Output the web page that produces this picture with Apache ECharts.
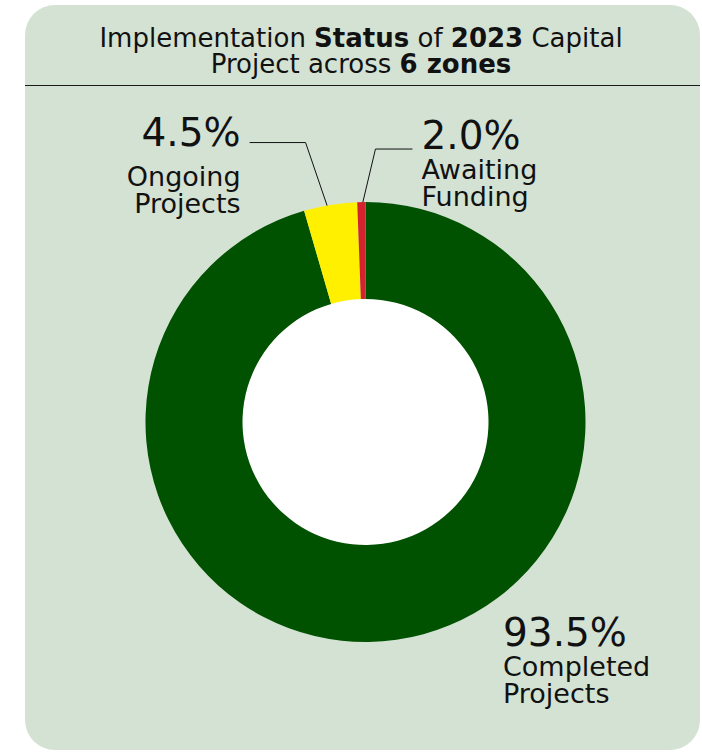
<!DOCTYPE html>
<html>
<head>
<meta charset="utf-8">
<script src="https://cdn.jsdelivr.net/npm/echarts@6/dist/echarts.min.js"></script>
<style>
  html, body { margin: 0; padding: 0; background: #ffffff; }
  #chart { width: 702px; height: 752px; }
  #chart text { font-variant-ligatures: none; }
</style>
</head>
<body>
<div id="chart"></div>
<script>
// ---- data ----
const categories = ['Completed Projects', 'Ongoing Projects', 'Awaiting Funding'];
const labelWords = [['Completed', 'Projects'], ['Ongoing', 'Projects'], ['Awaiting', 'Funding']];
const sliceValues = [95.5, 3.9, 0.6];          // slice sizes as drawn
const shownPercents = ['93.5%', '4.5%', '2.0%']; // percentages printed on the chart
const sliceColors = ['#005200', '#FFF000', '#D2232E'];
const titleLine1 = [['Implementation ', 'n'], ['Status', 'b'], [' of ', 'n'], ['2023', 'b'], [' Capital', 'n']];
const titleLine2 = [['Project across ', 'n'], ['6 zones', 'b']];

// ---- layout ----
const CX = 365.5, CY = 422, R_IN = 123, R_OUT = 220;
const FONT = '"DejaVu Sans", "Open Sans", sans-serif';
const total = sliceValues.reduce((a, b) => a + b, 0);
function midAngle(i) {
  let cum = 0;
  for (let j = 0; j < i; j++) cum += sliceValues[j];
  return (cum + sliceValues[i] / 2) / total * Math.PI * 2; // clockwise from 12 o'clock
}
function polar(r, a) { return [CX + r * Math.sin(a), CY - r * Math.cos(a)]; }

// leader-line / label placement per slice
const labelPlace = [
  { line: false, dx: 137.5, dy: 189, align: 'left', big: 'p' },
  { line: true, r: 200, elbow: [-28, -82], run: -56, gap: 9, align: 'right', top: -40, big: 'q' },
  { line: true, r: 214, elbow: [14, -59], run: 37, gap: 9, align: 'left', top: -35, big: 'p' }
];

const richTitle = (parts) => parts.map(p => '{' + p[1] + '|' + p[0] + '}').join('');

const chart = echarts.init(document.getElementById('chart'), null, { renderer: 'svg' });
chart.setOption({
  animation: false,
  graphic: [
    {
      type: 'rect', z: -10, silent: true,
      shape: { x: 25, y: 5, width: 675, height: 745, r: 30 },
      style: { fill: '#D4E2D4' }
    },
    {
      type: 'line', z: -5, silent: true,
      shape: { x1: 25, y1: 85.5, x2: 700, y2: 85.5 },
      style: { stroke: '#1a1a1a', lineWidth: 1 }
    }
  ],
  title: {
    text: richTitle(titleLine1) + '\n' + richTitle(titleLine2),
    left: 361, top: 25, textAlign: 'center', padding: 0,
    textStyle: {
      rich: {
        n: { fontFamily: FONT, fontSize: 26, fontWeight: 'normal', color: '#111', lineHeight: 26 },
        b: { fontFamily: FONT, fontSize: 26, fontWeight: 'bold', color: '#111', lineHeight: 26 }
      }
    }
  },
  series: [
    {
      type: 'pie', silent: true, z: 1,
      center: [CX, CY], radius: [0, R_IN + 0.5],
      label: { show: false }, labelLine: { show: false },
      data: [{ value: 1, itemStyle: { color: '#ffffff' } }]
    },
    {
      type: 'pie', z: 2,
      center: [CX, CY], radius: [R_IN, R_OUT],
      startAngle: 90, clockwise: true,
      avoidLabelOverlap: false,
      label: {
        show: true, position: 'outside',
        formatter: (p) => '{' + labelPlace[p.dataIndex].big + '|' + shownPercents[p.dataIndex] + '}\n{t|' +
          labelWords[p.dataIndex][0] + '}\n{t|' + labelWords[p.dataIndex][1] + '}',
        rich: {
          p: { fontFamily: FONT, fontSize: 39, lineHeight: 42, color: '#111' },
          q: { fontFamily: FONT, fontSize: 39, lineHeight: 60, color: '#111' },
          t: { fontFamily: FONT, fontSize: 27, lineHeight: 27, color: '#111' }
        }
      },
      labelLine: { show: true, lineStyle: { color: '#111', width: 1 } },
      labelLayout: (p) => {
        const i = p.dataIndex;
        const cfg = labelPlace[i];
        const a = midAngle(i);
        if (!cfg.line) {
          return { x: CX + cfg.dx, y: CY + cfg.dy, align: cfg.align, verticalAlign: 'top' };
        }
        const s = polar(cfg.r, a);
        const e = [s[0] + cfg.elbow[0], s[1] + cfg.elbow[1]];
        const t = [e[0] + cfg.run, e[1]];
        return {
          x: t[0] + (cfg.run < 0 ? -cfg.gap : cfg.gap),
          y: t[1] + cfg.top,
          align: cfg.align, verticalAlign: 'top',
          labelLinePoints: [s, e, t]
        };
      },
      data: categories.map((c, i) => ({
        name: c, value: sliceValues[i],
        itemStyle: { color: sliceColors[i] },
        labelLine: { show: labelPlace[i].line }
      }))
    }
  ]
});
</script>
</body>
</html>
